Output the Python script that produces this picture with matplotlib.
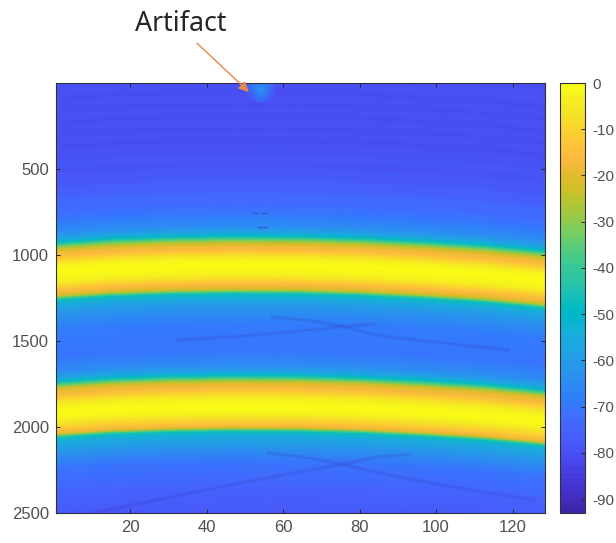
import numpy as np
import matplotlib
matplotlib.use('Agg')
import matplotlib.pyplot as plt
from matplotlib.colors import ListedColormap

plt.rcParams['font.family'] = ['Liberation Sans', 'DejaVu Sans']
plt.rcParams['axes.unicode_minus'] = False

# parula, sampled
parula_colors = [
    (0.2422, 0.1504, 0.6603), (0.2504, 0.1650, 0.7076), (0.2578, 0.1818, 0.7511), (0.2647, 0.1978, 0.7952),
    (0.2706, 0.2147, 0.8364), (0.2751, 0.2342, 0.8710), (0.2783, 0.2559, 0.8991), (0.2803, 0.2782, 0.9221),
    (0.2813, 0.3006, 0.9414), (0.2810, 0.3228, 0.9579), (0.2795, 0.3447, 0.9717), (0.2760, 0.3667, 0.9829),
    (0.2699, 0.3892, 0.9906), (0.2602, 0.4123, 0.9952), (0.2440, 0.4358, 0.9988), (0.2206, 0.4603, 0.9973),
    (0.1963, 0.4847, 0.9892), (0.1834, 0.5074, 0.9798), (0.1786, 0.5289, 0.9682), (0.1764, 0.5499, 0.9520),
    (0.1687, 0.5703, 0.9359), (0.1540, 0.5902, 0.9218), (0.1460, 0.6091, 0.9079), (0.1380, 0.6276, 0.8973),
    (0.1248, 0.6459, 0.8883), (0.1113, 0.6635, 0.8763), (0.0952, 0.6798, 0.8598), (0.0689, 0.6948, 0.8394),
    (0.0297, 0.7082, 0.8163), (0.0036, 0.7203, 0.7917), (0.0067, 0.7312, 0.7660), (0.0433, 0.7411, 0.7394),
    (0.0964, 0.7500, 0.7120), (0.1408, 0.7584, 0.6842), (0.1717, 0.7670, 0.6554), (0.1938, 0.7758, 0.6251),
    (0.2161, 0.7843, 0.5923), (0.2470, 0.7918, 0.5567), (0.2906, 0.7973, 0.5188), (0.3406, 0.8008, 0.4789),
    (0.3909, 0.8029, 0.4354), (0.4456, 0.8024, 0.3909), (0.5044, 0.7993, 0.3480), (0.5616, 0.7942, 0.3045),
    (0.6174, 0.7876, 0.2612), (0.6720, 0.7793, 0.2227), (0.7242, 0.7698, 0.1910), (0.7738, 0.7598, 0.1646),
    (0.8203, 0.7498, 0.1535), (0.8634, 0.7406, 0.1596), (0.9035, 0.7330, 0.1774), (0.9393, 0.7288, 0.2100),
    (0.9728, 0.7298, 0.2394), (0.9956, 0.7434, 0.2371), (0.9970, 0.7659, 0.2199), (0.9952, 0.7893, 0.2028),
    (0.9892, 0.8136, 0.1885), (0.9786, 0.8386, 0.1766), (0.9676, 0.8639, 0.1643), (0.9610, 0.8890, 0.1537),
    (0.9597, 0.9135, 0.1423), (0.9628, 0.9373, 0.1265), (0.9691, 0.9606, 0.1064), (0.9769, 0.9839, 0.0805),
]
parula = ListedColormap(parula_colors, name='parula')

# level read down the image at the top of the arc (depth sample, dB)
row_depth = [-100, 20, 55, 90, 125, 160, 195, 230, 265, 300, 335, 370, 405, 440, 475, 510, 545, 580, 615, 650,
             685, 720, 755, 790, 830, 870, 890, 905, 915, 925, 935, 950, 975, 995, 1020, 1050, 1070, 1100, 1120, 1145,
             1165, 1185, 1200, 1210, 1218, 1228, 1250, 1300, 1400, 1550, 1640, 1680, 1700, 1715, 1725, 1735, 1750,
             1775, 1800, 1825, 1855, 1880, 1915, 1935, 1960, 1985, 2003, 2012, 2020, 2030, 2050, 2100, 2200, 2350, 2500]
row_db = [-80, -79.5, -80.5, -79.5, -80.5, -79.5, -80.5, -79.5, -80.5, -79, -80, -78.5, -79.5, -78, -79, -77.5, -78, -76, -76.5, -74,
          -74, -71.5, -71, -68, -65, -58, -49, -38, -33, -27, -22, -18, -15, -10, -4, -1, -0.5, -1.5, -4, -10,
          -15, -18, -23, -30, -38, -47, -55, -62, -69, -71, -65, -58, -48, -38, -32, -26, -20,
          -16, -11, -5, -1.5, -0.5, -2, -5, -10, -15, -20, -28, -38, -47, -54, -61, -70, -75, -78]

# how far the arc sits below its top at each column
column_x = [0.5, 16, 32, 48, 64, 80, 96, 112, 128.5]
column_shift = [36, 14, 4, 0, 2, 11, 28, 50, 84]

# lighter patch at the artifact
artifact_db = [[-70, -67, -65, -66, -70],
               [-70, -66, -64, -65, -70],
               [-72, -69, -66, -69, -72]]
artifact_alpha = [[0.5, 1, 1, 1, 0.5],
                  [0.4, 1, 1, 1, 0.4],
                  [0, 0.3, 0.6, 0.3, 0]]
ghost_db = [[-66, -66, -66], [-63, -63, -63], [-66, -66, -66]]
ghost_alpha = [[0, 0.3, 0], [0.3, 0.8, 0.3], [0, 0.3, 0]]

# dark streaks below each band (x, depth)
streaks = [
    ([32, 50, 67, 76, 84], [1495, 1470, 1436, 1415, 1400]),
    ([57, 67, 76, 84, 95, 119], [1360, 1380, 1418, 1465, 1495, 1552]),
    ([10, 30, 50, 67, 76, 84, 93], [2500, 2410, 2320, 2250, 2215, 2175, 2160]),
    ([56, 67, 76, 90, 110, 126], [2150, 2180, 2220, 2290, 2370, 2425]),
]
dashes = [([52, 53.4], [756, 756]), ([54.3, 55.6], [756, 756]), ([53.4, 55.4], [837, 837])]

xticks = [20, 40, 60, 80, 100, 120]
yticks = [500, 1000, 1500, 2000, 2500]
cticks = [0, -10, -20, -30, -40, -50, -60, -70, -80, -90]

fig = plt.figure(figsize=(6.16, 5.43), dpi=100)
ax = fig.add_axes([56 / 616, 30 / 543, 489 / 616, 430 / 543])

X, _ = np.meshgrid(column_x, row_depth)
Y = np.add.outer(np.array(row_depth, dtype=float), np.array(column_shift, dtype=float))
C = np.tile(np.array(row_db)[:, None], (1, len(column_x)))
mesh = ax.pcolormesh(X, Y, C, cmap=parula, vmin=-93, vmax=0, shading='gouraud')

ax.imshow(artifact_db, cmap=parula, vmin=-93, vmax=0, alpha=np.array(artifact_alpha), extent=(50.5, 57.5, 110, 0),
          interpolation='bicubic', aspect='auto', zorder=2)
ax.imshow(ghost_db, cmap=parula, vmin=-93, vmax=0, alpha=np.array(ghost_alpha), extent=(51.5, 56.5, 840, 750),
          interpolation='bicubic', aspect='auto', zorder=2)

for sx, sy in streaks:
    ax.plot(sx, sy, color='#3a2fb0', lw=3, alpha=0.09, solid_capstyle='round', zorder=3)
    ax.plot(sx, sy, color='#3a2fb0', lw=1.2, alpha=0.12, solid_capstyle='round', zorder=3)
for sx, sy in dashes:
    ax.plot(sx, sy, color='#3a45c0', lw=1.0, alpha=0.7, zorder=3)

ax.set_xlim(0.5, 128.5)
ax.set_ylim(2500, 0)
ax.set_xticks(xticks)
ax.set_yticks(yticks)
ax.tick_params(direction='in', top=True, right=True, length=3, width=0.7, color='#262626',
               labelsize=12, labelcolor='#505050', pad=5)
for spine in ax.spines.values():
    spine.set_color('#303040')
    spine.set_linewidth(0.8)

cax = fig.add_axes([560 / 616, 30 / 543, 25 / 616, 430 / 543])
cb = fig.colorbar(mesh, cax=cax, ticks=cticks)
cb.ax.tick_params(direction='in', length=3, width=0.7, color='#262626', labelsize=11, labelcolor='#505050', pad=5)
cb.outline.set_edgecolor('#303040')
cb.outline.set_linewidth(0.8)

ax.annotate('', xy=(51, 52), xytext=(37.4, -232), annotation_clip=False,
            arrowprops=dict(arrowstyle='-|>', color='#E8874A', lw=1.0, mutation_scale=15, shrinkA=0, shrinkB=0))
ax.text(33.2, -345, 'Artifact', fontsize=19.3, color='#262626', ha='center', va='center',
        family=['Noto Sans', 'DejaVu Sans'], clip_on=False)

fig.savefig('out.png', dpi=100)
